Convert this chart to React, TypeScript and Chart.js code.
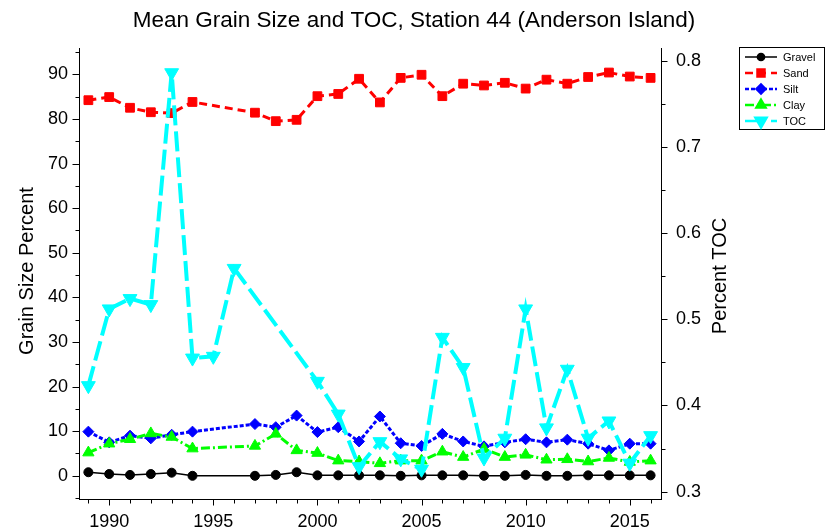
import React, { useEffect, useRef } from 'react';
import Chart from 'chart.js/auto';
import { drawPoint } from 'chart.js/helpers';

const FONT = '"Liberation Sans", Arial, Helvetica, sans-serif';

const chartTitle = 'Mean Grain Size and TOC, Station 44 (Anderson Island)';
const leftAxisTitle = 'Grain Size Percent';
const rightAxisTitle = 'Percent TOC';

const grainYears = [1989, 1990, 1991, 1992, 1993, 1994, 1997, 1998, 1999, 2000, 2001, 2002, 2003, 2004, 2005, 2006, 2007, 2008, 2009, 2010, 2011, 2012, 2013, 2014, 2015, 2016];
const gravel = [0.8, 0.4, 0.2, 0.4, 0.7, 0.0, 0.0, 0.2, 0.8, 0.1, 0.1, 0.1, 0.1, 0.0, 0.1, 0.1, 0.1, 0.0, 0.0, 0.2, 0.0, 0.0, 0.1, 0.1, 0.1, 0.1];
const sand = [84.2, 84.9, 82.5, 81.5, 81.3, 83.8, 81.4, 79.5, 79.8, 85.1, 85.6, 89.0, 83.7, 89.2, 89.9, 85.1, 87.9, 87.5, 88.1, 86.8, 88.8, 87.9, 89.4, 90.4, 89.5, 89.2];
const silt = [9.9, 7.5, 9.0, 8.4, 9.2, 9.9, 11.6, 10.9, 13.5, 9.8, 10.9, 7.7, 13.3, 7.3, 6.7, 9.4, 7.7, 6.6, 7.5, 8.2, 7.5, 8.1, 7.2, 5.7, 7.2, 7.2];
const clay = [5.2, 7.2, 8.2, 9.5, 8.7, 6.1, 6.7, 9.4, 5.7, 5.1, 3.4, 3.2, 2.8, 3.4, 3.4, 5.4, 4.2, 6.0, 4.2, 4.7, 3.6, 3.7, 3.2, 4.0, 3.1, 3.4];

const tocYears = [1989, 1990, 1991, 1992, 1993, 1994, 1995, 1996, 2000, 2001, 2002, 2003, 2004, 2005, 2006, 2007, 2008, 2009, 2010, 2011, 2012, 2013, 2014, 2015, 2016];
const toc = [0.423, 0.512, 0.524, 0.517, 0.786, 0.455, 0.457, 0.559, 0.428, 0.390, 0.329, 0.358, 0.338, 0.326, 0.479, 0.444, 0.339, 0.362, 0.512, 0.374, 0.442, 0.362, 0.382, 0.333, 0.365];

const xMajorTicks = [1990, 1995, 2000, 2005, 2010, 2015];
const leftMajorTicks = [0, 10, 20, 30, 40, 50, 60, 70, 80, 90];
const rightMajorTicks = [0.3, 0.4, 0.5, 0.6, 0.7, 0.8];

const xMinorTicks: number[] = [];
for (let y = grainYears[0]; y <= grainYears[grainYears.length - 1]; y++) xMinorTicks.push(y);
const leftMinorTicks = [-5, ...leftMajorTicks.map((v) => v + 5)];
const rightMinorTicks = rightMajorTicks.slice(0, -1).map((v) => +(v + 0.05).toFixed(2));

const toXY = (xs: number[], ys: number[]) => xs.map((x, i) => ({ x, y: ys[i] }));

const isMajor = (arr: number[], v: number) => arr.some((m) => Math.abs(m - v) < 1e-6);

const decorPlugin = {
  id: 'decor',
  afterDraw(chart: any) {
    const { ctx, chartArea, scales } = chart;
    ctx.save();
    ctx.strokeStyle = '#000';
    ctx.lineWidth = 1;
    const line = (x1: number, y1: number, x2: number, y2: number) => {
      ctx.beginPath();
      ctx.moveTo(x1, y1);
      ctx.lineTo(x2, y2);
      ctx.stroke();
    };
    const bottom = Math.round(chartArea.bottom) + 0.5;
    const left = Math.round(chartArea.left) + 0.5;
    const right = Math.round(chartArea.right) + 0.5;
    for (const t of scales.x.ticks) {
      const px = Math.round(scales.x.getPixelForValue(t.value)) + 0.5;
      line(px, bottom, px, bottom + (isMajor(xMajorTicks, t.value) ? 6 : 4));
    }
    for (const t of scales.y.ticks) {
      const py = Math.round(scales.y.getPixelForValue(t.value)) + 0.5;
      line(left, py, left - (isMajor(leftMajorTicks, t.value) ? 7 : 4), py);
    }
    for (const t of scales.y1.ticks) {
      const py = Math.round(scales.y1.getPixelForValue(t.value)) + 0.5;
      line(right, py, right + (isMajor(rightMajorTicks, t.value) ? 6 : 4), py);
    }

    // titles
    ctx.fillStyle = '#000';
    ctx.textAlign = 'center';
    ctx.textBaseline = 'middle';
    ctx.font = `22.5px ${FONT}`;
    ctx.fillText(chartTitle, 414, 21);
    ctx.font = `20px ${FONT}`;
    ctx.save();
    ctx.translate(27, 271);
    ctx.rotate(-Math.PI / 2);
    ctx.fillText(leftAxisTitle, 0, 0);
    ctx.restore();
    ctx.save();
    ctx.translate(720, 276);
    ctx.rotate(-Math.PI / 2);
    ctx.fillText(rightAxisTitle, 0, 0);
    ctx.restore();

    // legend
    ctx.strokeStyle = '#000';
    ctx.lineWidth = 1;
    ctx.strokeRect(739.5, 47.5, 85, 82);
    ctx.font = `11px ${FONT}`;
    ctx.textAlign = 'left';
    chart.data.datasets.forEach((ds: any, i: number) => {
      const yy = 57 + i * 16;
      ctx.save();
      ctx.strokeStyle = ds.borderColor;
      ctx.lineWidth = Math.min(ds.borderWidth, 2.5);
      ctx.setLineDash(ds.borderDash || []);
      ctx.beginPath();
      ctx.moveTo(745, yy);
      ctx.lineTo(777, yy);
      ctx.stroke();
      ctx.setLineDash([]);
      ctx.fillStyle = ds.pointBackgroundColor;
      ctx.strokeStyle = ds.pointBorderColor;
      drawPoint(ctx, {
        pointStyle: ds.pointStyle,
        rotation: ds.pointRotation || 0,
        radius: ds.pointRadius * 0.8,
        borderWidth: 1,
      } as any, 761, yy);
      ctx.restore();
      ctx.fillStyle = '#000';
      ctx.fillText(ds.label, 783, yy + 0.5);
    });
    ctx.restore();
  },
};

export default function App() {
  const ref = useRef<HTMLCanvasElement>(null);
  useEffect(() => {
    const mk = (label: string, data: any[], color: string, opts: any) => ({
      label,
      data,
      borderColor: color,
      backgroundColor: color,
      pointBackgroundColor: color,
      pointBorderColor: color,
      pointBorderWidth: 1,
      tension: 0,
      fill: false,
      ...opts,
    });
    const chart = new Chart(ref.current!, {
      type: 'line',
      data: {
        datasets: [
          mk('Gravel', toXY(grainYears, gravel), '#000000', { borderWidth: 1.5, pointStyle: 'circle', pointRadius: 4.5, yAxisID: 'y', order: 5 }),
          mk('Sand', toXY(grainYears, sand), '#FF0000', { borderWidth: 3, borderDash: [8, 5], pointStyle: 'rect', pointRadius: 6.2, yAxisID: 'y', order: 4 }),
          mk('Silt', toXY(grainYears, silt), '#0000FF', { borderWidth: 3, borderDash: [4, 2], pointStyle: 'rectRot', pointRadius: 5.5, yAxisID: 'y', order: 3 }),
          mk('Clay', toXY(grainYears, clay), '#00FF00', { borderWidth: 3, borderDash: [9, 3, 2, 3], pointStyle: 'triangle', pointRadius: 6.5, yAxisID: 'y', order: 2 }),
          mk('TOC', toXY(tocYears, toc), '#00FFFF', { borderWidth: 4, borderDash: [20, 6], pointStyle: 'triangle', pointRotation: 180, pointRadius: 8, yAxisID: 'y1', order: 1 }),
        ],
      },
      options: {
        animation: false,
        responsive: false,
        maintainAspectRatio: false,
        events: [],
        layout: { padding: { top: 48, left: 0, right: 0, bottom: 0 } },
        plugins: { legend: { display: false }, title: { display: false }, tooltip: { enabled: false } },
        scales: {
          x: {
            type: 'linear',
            position: 'bottom',
            min: 1988.55,
            max: 2016.5,
            grid: { display: false, drawTicks: false },
            border: { display: true, color: '#000', width: 1 },
            afterBuildTicks: (s: any) => { s.ticks = xMinorTicks.map((value) => ({ value })); },
            afterFit: (s: any) => { s.height = 32; },
            ticks: {
              autoSkip: false,
              maxRotation: 0,
              padding: 12,
              color: '#000',
              font: { family: FONT, size: 18 },
              callback: (v: any) => (isMajor(xMajorTicks, v) ? String(v) : ''),
            },
          },
          y: {
            type: 'linear',
            position: 'left',
            min: -5.2,
            max: 95.9,
            grid: { display: false, drawTicks: false },
            border: { display: true, color: '#000', width: 1 },
            afterBuildTicks: (s: any) => {
              s.ticks = [...leftMajorTicks, ...leftMinorTicks].sort((a, b) => a - b).map((value) => ({ value }));
            },
            afterFit: (s: any) => { s.width = 79; },
            ticks: {
              autoSkip: false,
              padding: 11,
              color: '#000',
              font: { family: FONT, size: 18 },
              callback: (v: any) => (isMajor(leftMajorTicks, v) ? String(v) : ''),
            },
          },
          y1: {
            type: 'linear',
            position: 'right',
            min: 0.2915,
            max: 0.8147,
            grid: { display: false, drawTicks: false },
            border: { display: true, color: '#000', width: 1 },
            afterBuildTicks: (s: any) => {
              s.ticks = [...rightMajorTicks, ...rightMinorTicks].sort((a, b) => a - b).map((value) => ({ value }));
            },
            afterFit: (s: any) => { s.width = 165; },
            ticks: {
              autoSkip: false,
              padding: 15,
              color: '#000',
              font: { family: FONT, size: 18 },
              callback: (v: any) => (isMajor(rightMajorTicks, v) ? Number(v).toFixed(1) : ''),
            },
          },
        },
      },
      plugins: [decorPlugin],
    } as any);
    return () => chart.destroy();
  }, []);
  return (
    <div style={{ position: 'fixed', left: 0, top: 0, width: 826, height: 531, background: '#fff' }}>
      <canvas ref={ref} width={826} height={531} style={{ display: 'block', width: 826, height: 531 }} />
    </div>
  );
}
